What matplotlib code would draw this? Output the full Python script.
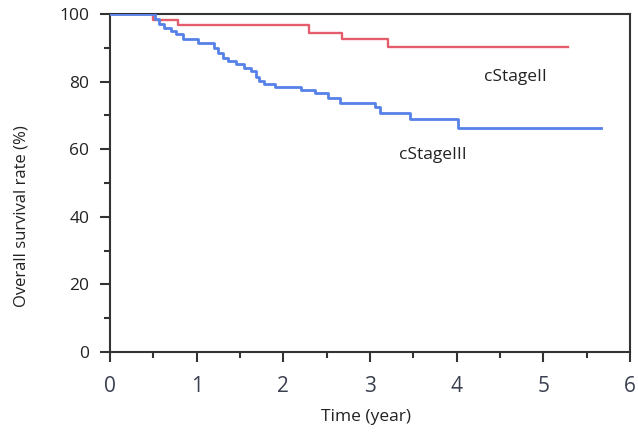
import matplotlib
matplotlib.use("Agg")
import matplotlib.pyplot as plt
from matplotlib.ticker import MultipleLocator

# Data: Kaplan-Meier step points (time in years, survival %)
stage2_time = [0, 0.50, 0.78, 2.30, 2.68, 3.21]
stage2_surv = [100, 98.3, 96.6, 94.5, 92.5, 90.3]
stage2_end = 5.29

stage3_time = [0, 0.52, 0.57, 0.62, 0.70, 0.76, 0.84, 1.02, 1.20, 1.25, 1.30,
               1.36, 1.45, 1.55, 1.63, 1.68, 1.72, 1.78, 1.90, 2.20, 2.36,
               2.52, 2.65, 3.06, 3.12, 3.46, 4.02]
stage3_surv = [100, 98.5, 97.0, 96.0, 95.0, 94.0, 92.5, 91.5, 90.0, 88.5, 87.0,
               86.0, 85.3, 84.0, 83.0, 81.5, 80.3, 79.3, 78.3, 77.5, 76.5,
               75.2, 73.8, 72.6, 70.8, 69.0, 66.2]
stage3_end = 5.67

x_ticks = [0, 1, 2, 3, 4, 5, 6]
y_ticks = [0, 20, 40, 60, 80, 100]

plt.rcParams['font.family'] = ['Open Sans', 'DejaVu Sans']

fig = plt.figure(figsize=(6.38, 4.32), dpi=100)
ax = fig.add_axes([110/638, 1-352/432, (630-110)/638, (352-14)/432])

red = "#e35d6c"
blue = "#5681e8"
ax.step(stage2_time + [stage2_end], stage2_surv + [stage2_surv[-1]], where='post',
        color=red, lw=1.7, zorder=3)
ax.step(stage3_time + [stage3_end], stage3_surv + [stage3_surv[-1]], where='post',
        color=blue, lw=2.0, zorder=3)

ax.set_xlim(0, 6)
ax.set_ylim(0, 100)
ax.set_xticks(x_ticks)
ax.set_yticks(y_ticks)
ax.xaxis.set_minor_locator(MultipleLocator(0.5))
ax.yaxis.set_minor_locator(MultipleLocator(10))

for s in ax.spines.values():
    s.set_color("#333333")
    s.set_linewidth(1.5)

ax.tick_params(which='major', direction='out', length=7, width=1.5, color="#333333")
ax.tick_params(which='minor', direction='out', length=4, width=1.5, color="#333333")
ax.tick_params(axis='x', which='major', labelsize=15, labelcolor="#3a4050", pad=10)
ax.tick_params(axis='y', which='major', labelsize=12.5, labelcolor="#222222", pad=8)

ax.set_xlabel("Time (year)", fontsize=12.5, color="#222222")
ax.set_ylabel("Overall survival rate (%)", fontsize=12, color="#222222")
ax.xaxis.set_label_coords((366 - 110) / 520, (352 - 409) / 338)
ax.yaxis.set_label_coords((29 - 110) / 520, (352 - 216) / 338)

ax.text(4.68, 81.5, "cStageII", fontsize=12.5, color="#222222", ha='center', va='center')
ax.text(3.73, 58.3, "cStageIII", fontsize=12.5, color="#222222", ha='center', va='center')

fig.savefig("out.png", dpi=100)
